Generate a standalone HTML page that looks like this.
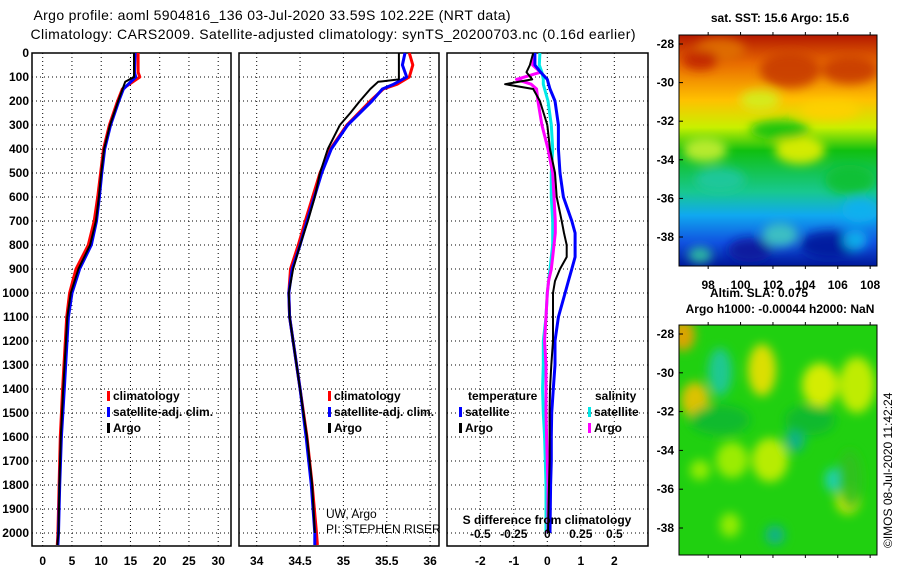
<!DOCTYPE html>
<html><head><meta charset="utf-8"><style>
body{margin:0;background:#fff}
svg{display:block;font-family:"Liberation Sans",sans-serif}
.t{font-weight:bold;font-size:12px}
</style></head><body>
<svg id="c" width="900" height="580" xmlns="http://www.w3.org/2000/svg">
<defs>
<linearGradient id="sstg" x1="0" y1="0" x2="0" y2="1">
<stop offset="0" stop-color="#b31800"/><stop offset="0.12" stop-color="#e86a00"/><stop offset="0.28" stop-color="#ffc000"/><stop offset="0.4" stop-color="#c8f000"/><stop offset="0.5" stop-color="#10c010"/><stop offset="0.68" stop-color="#18c890"/><stop offset="0.78" stop-color="#10a8f0"/><stop offset="0.9" stop-color="#1050e0"/><stop offset="1" stop-color="#00189a"/>
</linearGradient>
<filter id="blur" x="-50%" y="-50%" width="200%" height="200%"><feGaussianBlur stdDeviation="5"/></filter>
<clipPath id="clip1"><rect x="679" y="35" width="198" height="231"/></clipPath>
<clipPath id="clip2"><rect x="679" y="325" width="198" height="230"/></clipPath>
</defs>
<text x="272" y="20" text-anchor="middle" font-size="14" textLength="477">Argo profile: aoml 5904816_136 03-Jul-2020 33.59S 102.22E (NRT data)</text>
<text x="333" y="39" text-anchor="middle" font-size="14" textLength="605">Climatology: CARS2009. Satellite-adjusted climatology: synTS_20200703.nc (0.16d earlier)</text>
<g id="panels"></g>
<g id="maps"></g>
</svg>
<script>
const depthTicks=[0,100,200,300,400,500,600,700,800,900,1000,1100,1200,1300,1400,1500,1600,1700,1800,1900,2000];
const tempTicks=[0,5,10,15,20,25,30];
const salTicks=[34,34.5,35,35.5,36];
const diffTicks=[-2,-1,0,1,2];
const sdiffTicks=[-0.5,-0.25,0,0.25,0.5];
const sdiffLabels=["-0.5","-0.25","0","0.25","0.5"];
const tArgoD=[0,100,120,200,300,400,500,600,700,800,900,1000,1100,1400,1600,1800,2000,2050];
const tArgo=[15.6,15.6,14.1,12.9,11.5,10.5,10.0,9.6,9.1,8.1,6.1,4.8,4.2,3.5,3.1,2.85,2.7,2.5];
const tClimD=[0,80,100,150,200,300,400,500,600,700,800,900,1000,1100,1400,1600,1800,2000,2050];
const tClim=[16.3,16.3,16.6,13.6,12.8,11.4,10.4,9.9,9.4,8.8,7.8,5.7,4.6,4.1,3.4,3.0,2.8,2.6,2.5];
const tSat=[15.8,15.7,15.9,13.8,13.0,11.6,10.6,10.1,9.7,9.2,8.3,6.3,5.0,4.4,3.7,3.2,2.9,2.7,2.6];
const sArgoD=[0,110,120,150,200,250,300,400,500,600,700,800,900,1000,1100,1400,1500,1600,1800,2000];
const sArgo=[35.64,35.64,35.40,35.31,35.19,35.08,34.96,34.82,34.73,34.67,34.59,34.50,34.42,34.37,34.38,34.50,34.54,34.58,34.64,34.67];
const sClimD=[0,50,100,130,150,200,300,400,500,700,800,900,1000,1100,1400,1600,1800,2000,2050];
const sClim=[35.76,35.80,35.76,35.62,35.46,35.31,35.04,34.85,34.73,34.56,34.48,34.39,34.37,34.38,34.50,34.58,34.64,34.69,34.70];
const sSat=[35.71,35.68,35.73,35.58,35.45,35.33,35.05,34.86,34.75,34.58,34.50,34.41,34.37,34.38,34.50,34.57,34.63,34.67,34.67];
const dD=[0,50,80,110,130,150,200,300,400,500,600,700,750,800,850,900,950,1000,1100,1200,1300,1400,1500,1600,1700,1800,2000];
const dTArgo=[-0.42,-0.52,-0.62,-0.45,-1.26,-0.42,-0.22,0,0.08,0.23,0.28,0.43,0.5,0.58,0.58,0.38,0.23,0.17,0.17,0.17,0.12,0.08,0.07,0.07,0.07,0.05,0.02];
const dTSat=[-0.37,-0.37,-0.2,0,0.04,0.08,0.23,0.33,0.33,0.38,0.48,0.73,0.83,0.83,0.83,0.73,0.63,0.53,0.33,0.23,0.23,0.18,0.13,0.12,0.12,0.1,0.08];
const dSSat=[-0.055,-0.06,-0.04,-0.03,-0.03,-0.02,0.005,0.03,0.04,0.03,0.03,0.04,0.04,0.04,0.03,0.02,0.01,0,-0.01,-0.03,-0.03,-0.035,-0.03,-0.02,-0.015,-0.01,-0.01];
const dSArgo=[-0.1,-0.11,-0.05,-0.23,-0.12,-0.08,-0.07,-0.04,0.005,0.04,0.05,0.06,0.06,0.05,0.04,0.03,0.01,0,-0.01,-0.02,-0.01,-0.01,-0.01,-0.005,0,0.005,0.005];

const NS="http://www.w3.org/2000/svg";
const G=document.getElementById('panels');
function mk(tag,at,parent){const e=document.createElementNS(NS,tag);for(const k in at)e.setAttribute(k,at[k]);(parent||G).appendChild(e);return e;}
const Y=d=>53+d*0.24;
const yTop=53,yBot=546;
const panels=[
 {name:'temperature-panel',x0:32,x1:231,X:v=>42.7+v*5.85,ticks:tempTicks},
 {name:'salinity-panel',x0:239,x1:439,X:v=>256.7+(v-34)*86.7,ticks:salTicks},
 {name:'difference-panel',x0:447,x1:648,X:v=>547.3+v*33.5,ticks:diffTicks}
];
panels.forEach((p,i)=>{
 const g=mk('g',{});
 
 
 depthTicks.forEach(d=>{const l=mk('line',{x1:p.x0,x2:p.x1,y1:Y(d),y2:Y(d),stroke:'#000','stroke-dasharray':'1 3','stroke-width':1},g);
  });
 p.ticks.forEach(v=>{const x=p.X(v);const l=mk('line',{x1:x,x2:x,y1:yTop,y2:yBot,stroke:'#000','stroke-dasharray':'1 3','stroke-width':1},g);
  
  const tx=mk('text',{x:x,y:565,'text-anchor':'middle',class:'t'},g);tx.textContent=String(v);
  });
 const rr=mk('rect',{x:p.x0,y:yTop,width:p.x1-p.x0,height:yBot-yTop,fill:'none',stroke:'#000','stroke-width':1.5},g);
 
 p.g=g;
});
depthTicks.forEach(d=>{const tx=mk('text',{x:29,y:Y(d)+4,'text-anchor':'end',class:'t'});tx.textContent=d;
 });
function line(p,ds,vs,color,w,name,X){
 const pts=ds.map((d,i)=>(X||p.X)(vs[i]).toFixed(1)+','+Y(d).toFixed(1)).join(' ');
 const e=mk('polyline',{points:pts,fill:'none',stroke:color,'stroke-width':w,'stroke-linejoin':'round'},p.g);
 
}
const P1=panels[0],P2=panels[1],P3=panels[2];
line(P1,tClimD,tClim,'#f00',3,'temp-climatology-line');
line(P1,tClimD,tSat,'#00f',3,'temp-satellite-line');
line(P1,tArgoD,tArgo,'#000',2,'temp-argo-line');
line(P2,sClimD,sClim,'#f00',3,'sal-climatology-line');
line(P2,sClimD,sSat,'#00f',3,'sal-satellite-line');
line(P2,sArgoD,sArgo,'#000',2,'sal-argo-line');
const XS=v=>547.3+v*134;
line(P3,dD,dSSat,'#00e8e8',3,'sdiff-satellite-line',XS);
line(P3,dD,dSArgo,'#f0f',3,'sdiff-argo-line',XS);
line(P3,dD,dTSat,'#00f',3,'tdiff-satellite-line');
line(P3,dD,dTArgo,'#000',2,'tdiff-argo-line');
sdiffTicks.forEach((v,i)=>{const tx=mk('text',{x:XS(v),y:538,'text-anchor':'middle',class:'t'},P3.g);tx.textContent=sdiffLabels[i];
 });
function leg(g,x,y,color,label,name){
 const r=mk('rect',{x:x,y:y-9,width:3,height:10,fill:color},g);
 const tx=mk('text',{x:x+6,y:y,class:'t'},g);tx.textContent=label;
}
[[P1,107],[P2,328]].forEach(([p,x])=>{
 leg(p.g,x,400,'#f00','climatology','legend-climatology');
 leg(p.g,x,416,'#00f','satellite-adj. clim.','legend-satellite');
 leg(p.g,x,432,'#000','Argo','legend-argo');
});
let t=mk('text',{x:326,y:518,'font-size':12},P2.g);t.textContent='UW, Argo';
t=mk('text',{x:326,y:533,'font-size':12},P2.g);t.textContent='PI: STEPHEN RISER';
t=mk('text',{x:468,y:400,class:'t'},P3.g);t.textContent='temperature';
t=mk('text',{x:595,y:400,class:'t'},P3.g);t.textContent='salinity';
leg(P3.g,459,416,'#00f','satellite','legend-t-satellite');
leg(P3.g,459,432,'#000','Argo','legend-t-argo');
leg(P3.g,588,416,'#00e8e8','satellite','legend-s-satellite');
leg(P3.g,588,432,'#f0f','Argo','legend-s-argo');
t=mk('text',{x:547,y:524,'text-anchor':'middle',class:'t'},P3.g);t.textContent='S difference from climatology';

const M=document.getElementById('maps');
function mm(tag,at,parent){return mk(tag,at,parent||M);}
const latTicks=[-28,-30,-32,-34,-36,-38];
const lonTicks=[98,100,102,104,106,108];
const LX=v=>679+(v-96.2)*16.2;
function mapAxes(y0,y1,yl28,yl38,name,lonLabels){
 const ly=v=>yl28+(v+28)/(-10)*(yl38-yl28);
 latTicks.forEach(v=>{const e=mm('text',{x:674,y:ly(v)+4,'text-anchor':'end',class:'t'});e.textContent=v;
  
  mm('line',{x1:679,x2:683,y1:ly(v),y2:ly(v),stroke:'#000'});});
 lonTicks.forEach(v=>{mm('line',{x1:LX(v),x2:LX(v),y1:y0-3,y2:y0,stroke:'#000'});mm('line',{x1:LX(v),x2:LX(v),y1:y1,y2:y1+3,stroke:'#000'});
  if(lonLabels){const e=mm('text',{x:LX(v),y:289,'text-anchor':'middle',class:'t'});e.textContent=v;}});
}
let r=mm('rect',{x:679,y:35,width:198,height:231,fill:'url(#sstg)'});
const g1=mm('g',{'clip-path':'url(#clip1)'});
const g1b=mm('g',{filter:'url(#blur)'},g1);
const sstBlobs=[[720,50,25,12,'#e07000'],[790,70,30,18,'#c83c00'],[850,70,28,14,'#c83c00'],[700,60,18,10,'#c02400'],[760,100,20,10,'#d0f020'],[830,110,30,10,'#ffd000'],[705,150,22,12,'#c8f030'],[800,150,25,14,'#e8f000'],[780,130,30,10,'#10c010'],[850,180,25,15,'#10c030'],[720,180,25,12,'#20c8a0'],[860,210,18,12,'#10b0f0'],[750,250,22,12,'#10189a'],[830,245,30,14,'#00189a'],[780,235,18,12,'#40c8c0'],[855,240,12,10,'#10b8f0'],[700,255,12,8,'#30c8a0']];
sstBlobs.forEach(b=>{const e=mm('ellipse',{cx:b[0],cy:b[1],rx:b[2],ry:b[3],fill:b[4],opacity:0.9},g1b);});
mm('rect',{x:679,y:35,width:198,height:231,fill:'none',stroke:'#000','stroke-width':1});
mapAxes(35,266,44,237,'sst-map',true);
t=mm('text',{x:780,y:22,'text-anchor':'middle',class:'t'});t.textContent='sat. SST: 15.6 Argo: 15.6';
t=mm('text',{x:759,y:297,'text-anchor':'middle',class:'t'});t.textContent='Altim. SLA: 0.075';
t=mm('text',{x:780,y:313,'text-anchor':'middle',class:'t'});t.textContent='Argo h1000: -0.00044 h2000: NaN';
r=mm('rect',{x:679,y:325,width:198,height:230,fill:'#20d010'});
const g2=mm('g',{'clip-path':'url(#clip2)'});
const g2b=mm('g',{filter:'url(#blur)'},g2);
const slaBlobs=[[683,335,12,16,'#f0a000'],[720,372,12,24,'#20c8a0'],[762,370,14,26,'#f0e000'],[820,385,18,22,'#e8f000'],[857,385,18,28,'#d0f000'],[695,400,14,18,'#f0c000'],[795,440,10,12,'#10b090'],[770,460,18,22,'#c8f000'],[732,460,16,18,'#a8f000'],[833,480,8,12,'#20d0c0'],[848,500,12,14,'#f0f000'],[775,535,10,10,'#10b090'],[730,525,10,12,'#a0f000'],[850,480,12,30,'#30c020'],[700,470,10,10,'#a0f000'],[720,420,30,15,'#10b830'],[810,420,25,15,'#10b830']];
slaBlobs.forEach(b=>{const e=mm('ellipse',{cx:b[0],cy:b[1],rx:b[2],ry:b[3],fill:b[4],opacity:0.9},g2b);});
mm('rect',{x:679,y:325,width:198,height:230,fill:'none',stroke:'#000','stroke-width':1});
mapAxes(325,555,334,528,'sla-map',false);
t=mm('text',{x:892,y:548,'font-size':12,transform:'rotate(-90 892 548)'});t.textContent='©IMOS 08-Jul-2020 11:42:24';
</script>
</body></html>
